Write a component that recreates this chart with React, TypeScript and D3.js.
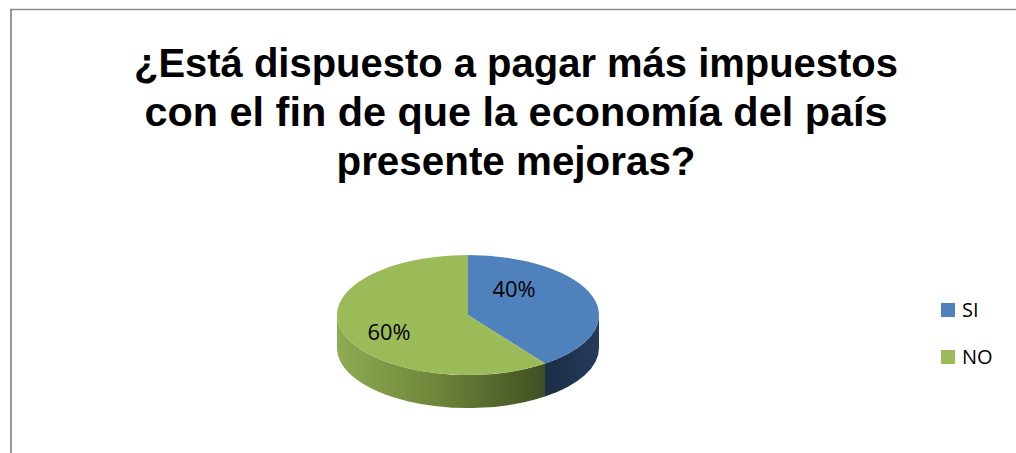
import React, { useEffect, useRef } from 'react';
import * as d3 from 'd3';

const categories = ['SI', 'NO'];
const values = [40, 60];
const labels = ['40%', '60%'];
const titleLines = [
  '¿Está dispuesto a pagar más impuestos',
  'con el fin de que la economía del país',
  'presente mejoras?',
];

const topColors = ['#4f81bd', '#9bbb59'];

const App: React.FC = () => {
  const svgRef = useRef<SVGSVGElement>(null);

  useEffect(() => {
    if (!svgRef.current) return;
    const svg = d3.select(svgRef.current);
    svg.selectAll('*').remove();

    const width = 1016;
    const height = 453;
    svg.attr('width', width).attr('height', height);

    // gradients for the pie sides
    const defs = svg.append('defs');
    const gGreen = defs.append('linearGradient')
      .attr('id', 'sideGreen')
      .attr('gradientUnits', 'userSpaceOnUse')
      .attr('x1', 337).attr('x2', 557).attr('y1', 0).attr('y2', 0);
    gGreen.append('stop').attr('offset', '0%').attr('stop-color', '#8eac52');
    gGreen.append('stop').attr('offset', '45%').attr('stop-color', '#6f853a');
    gGreen.append('stop').attr('offset', '100%').attr('stop-color', '#3b4920');
    const gBlue = defs.append('linearGradient')
      .attr('id', 'sideBlue')
      .attr('gradientUnits', 'userSpaceOnUse')
      .attr('x1', 557).attr('x2', 600).attr('y1', 0).attr('y2', 0);
    gBlue.append('stop').attr('offset', '0%').attr('stop-color', '#1d3049');
    gBlue.append('stop').attr('offset', '100%').attr('stop-color', '#243b5c');
    const sideFills = ['url(#sideBlue)', 'url(#sideGreen)'];

    // chart area border (only top and left are inside the picture)
    svg.append('rect').attr('width', width).attr('height', height).attr('fill', '#fff');
    svg.append('line')
      .attr('x1', 10).attr('x2', width + 10).attr('y1', 9.5).attr('y2', 9.5)
      .attr('stroke', '#8c8c8c').attr('stroke-width', 1.6);
    svg.append('line')
      .attr('x1', 11).attr('x2', 11).attr('y1', 9).attr('y2', height + 10)
      .attr('stroke', '#8c8c8c').attr('stroke-width', 1.8);

    // title
    const titleY = [77, 126, 175];
    const titleW = [764, 743, 359];
    svg.append('g')
      .selectAll('text')
      .data(titleLines)
      .enter()
      .append('text')
      .attr('x', 516)
      .attr('y', (_, i) => titleY[i])
      .attr('text-anchor', 'middle')
      .attr('font-family', '"Liberation Sans", Arial, sans-serif')
      .attr('font-weight', 700)
      .attr('font-size', 40)
      .attr('fill', '#000')
      .attr('textLength', (_, i) => titleW[i])
      .attr('lengthAdjust', 'spacingAndGlyphs')
      .text(d => d);

    // 3D pie
    const cx = 468;
    const cy = 315;
    const rx = 131;
    const ry = 60;
    const depth = 33;
    const pt = (a: number, dy = 0) => [cx + rx * Math.sin(a), cy - ry * Math.cos(a) + dy];

    const pie = d3.pie<number>().sort(null)(values);

    const g = svg.append('g');

    // sides (front half only: angles between PI/2 and 3PI/2)
    pie.forEach((s, i) => {
      const a0 = Math.max(s.startAngle, Math.PI / 2);
      const a1 = Math.min(s.endAngle, (3 * Math.PI) / 2);
      if (a1 <= a0) return;
      const p0 = pt(a0);
      const p1 = pt(a1);
      const q1 = pt(a1, depth);
      const q0 = pt(a0, depth);
      const path = `M${p0[0]},${p0[1]} A${rx},${ry} 0 0 1 ${p1[0]},${p1[1]} L${q1[0]},${q1[1]} A${rx},${ry} 0 0 0 ${q0[0]},${q0[1]} Z`;
      g.append('path').attr('d', path).attr('fill', sideFills[i]);
    });

    // top faces
    pie.forEach((s, i) => {
      const p0 = pt(s.startAngle);
      const p1 = pt(s.endAngle);
      const large = s.endAngle - s.startAngle > Math.PI ? 1 : 0;
      const path = `M${cx},${cy} L${p0[0]},${p0[1]} A${rx},${ry} 0 ${large} 1 ${p1[0]},${p1[1]} Z`;
      g.append('path').attr('d', path).attr('fill', topColors[i]);
    });

    // slice labels
    const labelPos = [[514, 297], [389, 340]];
    g.selectAll('.lbl')
      .data(labels)
      .enter()
      .append('text')
      .attr('class', 'lbl')
      .attr('x', (_, i) => labelPos[i][0])
      .attr('y', (_, i) => labelPos[i][1])
      .attr('text-anchor', 'middle')
      .attr('font-family', '"Open Sans", "Noto Sans", sans-serif')
      .attr('font-size', 22)
      .attr('fill', '#000')
      .attr('textLength', 43)
      .attr('lengthAdjust', 'spacingAndGlyphs')
      .text(d => d);

    // legend
    const legend = svg.append('g');
    const ly = d3.scaleOrdinal<string, number>().domain(categories).range([303, 350]);
    categories.forEach((c, i) => {
      legend.append('rect')
        .attr('x', 941)
        .attr('y', ly(c))
        .attr('width', 14)
        .attr('height', 14)
        .attr('fill', topColors[i]);
      legend.append('text')
        .attr('x', 962)
        .attr('y', ly(c) + 14)
        .attr('font-family', '"Open Sans", "Noto Sans", sans-serif')
        .attr('font-size', 20)
        .attr('fill', '#000')
        .text(c);
    });
  }, []);

  return (
    <svg
      ref={svgRef}
      style={{ position: 'fixed', left: 0, top: 0, display: 'block' }}
    ></svg>
  );
};

export default App;
